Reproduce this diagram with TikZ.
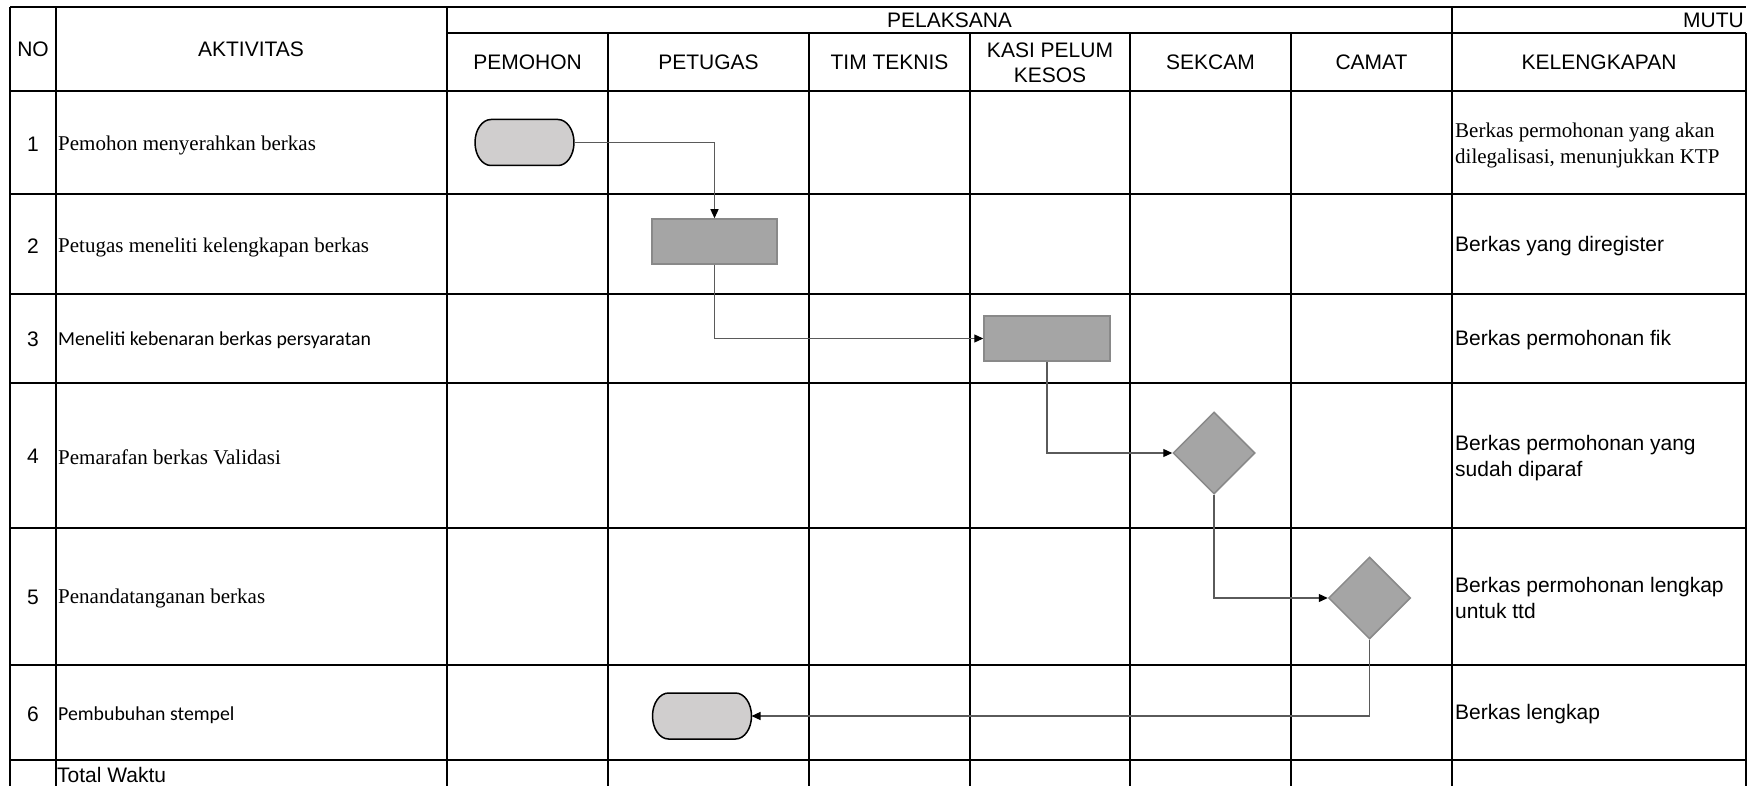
\documentclass[tikz,border=0pt]{standalone}
\usepackage{fontspec}
\setmainfont{Liberation Sans}
\newfontfamily\tnr{Liberation Serif}
\newfontfamily\calib{Carlito}
\usetikzlibrary{shapes.geometric,arrows.meta}
\definecolor{ovalfill}{RGB}{208,206,206}
\definecolor{boxfill}{RGB}{165,165,165}
\definecolor{boxline}{RGB}{137,137,137}
\definecolor{connline}{RGB}{90,90,90}
\begin{document}
\begin{tikzpicture}[x=1pt,y=-1pt,
  gridline/.style={line width=2pt,black},
  fsans/.style={font={\fontsize{21}{26}\selectfont}},
  fserif/.style={font={\tnr\fontsize{21}{26}\selectfont}},
  fcal/.style={font={\calib\fontsize{19.8}{24}\selectfont}},
  ctr/.style={inner sep=0pt,align=center},
  lft/.style={inner sep=0pt,anchor=west,align=left},
  ovalsty/.style={draw=none,minimum width=99pt,minimum height=46pt,inner sep=0pt,outer sep=0pt},
  ovaldraw/.style={draw=black,line width=1.5pt,fill=ovalfill},
  boxsty/.style={draw=boxline,line width=1.5pt,fill=boxfill,minimum width=125pt,minimum height=45pt,inner sep=0pt},
  diasty/.style={diamond,draw=boxline,line width=1.5pt,fill=boxfill,minimum width=82pt,minimum height=82pt,inner sep=0pt,aspect=1},
  conn/.style={draw=connline,line width=1.2pt,-{Triangle[length=9pt,width=8pt,color=black]}}
]
\useasboundingbox (0,0) rectangle (1760,786);
\fill[white] (0,0) rectangle (1760,786);

% grid
\draw[gridline] (10,7) -- (1746,7);
\draw[gridline] (447,33) -- (1746,33);
\foreach \yy in {91,194,294,383,528,665,760} \draw[gridline] (10,\yy) -- (1746,\yy);
\foreach \xx in {10,55.5,447,1452} \draw[gridline] (\xx,7) -- (\xx,787);
\foreach \xx in {608,809,970,1130,1291,1746} \draw[gridline] (\xx,33) -- (\xx,787);

% headers
\node[fsans,ctr] (hno) at (33,49) {NO};
\node[fsans,ctr] (hakt) at (251,49) {AKTIVITAS};
\node[fsans,ctr] (hpel) at (949.5,20) {PELAKSANA};
\node[fsans,inner sep=0pt,anchor=east] (hmutu) at (1744,20) {MUTU};
\node[fsans,ctr] (hpem) at (527.5,62) {PEMOHON};
\node[fsans,ctr] (hpet) at (708.5,62) {PETUGAS};
\node[fsans,ctr] (htim) at (889.5,62) {TIM TEKNIS};
\node[fsans,ctr,font={\fontsize{21}{25}\selectfont}] (hkasi) at (1050,62.5) {KASI PELUM\\KESOS};
\node[fsans,ctr] (hsek) at (1210.5,62) {SEKCAM};
\node[fsans,ctr] (hcam) at (1371.5,62) {CAMAT};
\node[fsans,ctr] (hkel) at (1599,62) {KELENGKAPAN};

% numbers
\node[fsans,ctr] (n1) at (33,144) {1};
\node[fsans,ctr] (n2) at (33,246) {2};
\node[fsans,ctr] (n3) at (33,339) {3};
\node[fsans,ctr] (n4) at (33,456) {4};
\node[fsans,ctr] (n5) at (33,597) {5};
\node[fsans,ctr] (n6) at (33,714) {6};

% activities
\node[fserif,lft] (a1) at (58,145) {Pemohon menyerahkan berkas};
\node[fserif,lft] (a2) at (58,247) {Petugas meneliti kelengkapan berkas};
\node[fcal,lft] (a3) at (58,340) {Meneliti kebenaran berkas persyaratan};
\node[fserif,lft] (a4) at (58,457) {Pemarafan berkas Validasi};
\node[fserif,lft] (a5) at (58,598) {Penandatanganan berkas};
\node[fcal,lft] (a6) at (58,715) {Pembubuhan stempel};
\node[fsans,lft] (tw) at (57,775) {Total Waktu};

% kelengkapan
\node[fserif,lft] (k1) at (1455,145) {Berkas permohonan yang akan\\dilegalisasi, menunjukkan KTP};
\node[fsans,lft] (k2) at (1455,246) {Berkas yang diregister};
\node[fsans,lft] (k3) at (1455,340) {Berkas permohonan fik};
\node[fsans,lft] (k4) at (1455,458) {Berkas permohonan yang\\sudah diparaf};
\node[fsans,lft] (k5) at (1455,598) {Berkas permohonan lengkap\\untuk ttd};
\node[fsans,lft] (k6) at (1455,714) {Berkas lengkap};

% flow shapes
\node[ovalsty] (o1) at (524.5,142.5) {};
\node[boxsty] (r2) at (714.5,241.5) {};
\node[boxsty,minimum width=126pt] (r3) at (1047,338.5) {};
\node[diasty] (d1) at (1214,453) {};
\node[diasty] (d2) at (1369.5,598) {};
\node[ovalsty] (o6) at (702,716) {};

% terminator outlines (Excel-style, elliptical ends)
\foreach \o in {o1,o6}{
  \draw[ovaldraw] ([xshift=16pt]\o.north west) -- ([xshift=-16pt]\o.north east)
    arc[start angle=90,end angle=-90,x radius=16pt,y radius=23pt]
    -- ([xshift=16pt]\o.south west)
    arc[start angle=270,end angle=90,x radius=16pt,y radius=23pt] -- cycle;
}

% connectors
\draw[conn] (o1.east) -| (r2.north);
\draw[conn] (r2.south) |- (r3.west);
\draw[conn] (r3.south) |- (d1.west);
\draw[conn] (d1.south) |- (d2.west);
\draw[conn] (d2.south) |- (o6.east);
\end{tikzpicture}
\end{document}
